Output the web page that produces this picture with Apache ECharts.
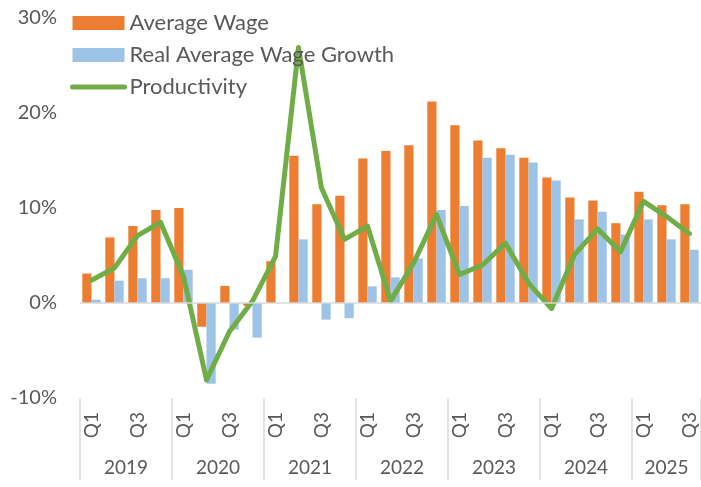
<!DOCTYPE html>
<html>
<head>
<meta charset="utf-8">
<script src="https://cdn.jsdelivr.net/npm/echarts@6/dist/echarts.min.js"></script>
<style>
    html, body { margin: 0; padding: 0; background: #fff; }
    #myChart { width: 701px; height: 487px; }
</style>
</head>
<body>
<div id="myChart"></div>
<script>
var years = ['2019', '2020', '2021', '2022', '2023', '2024', '2025'];
var quarterCount = [4, 4, 4, 4, 4, 4, 3];
var yTicks = [-10, 0, 10, 20, 30];

// 同比增速 (%)
var averageWage = [3.1, 6.9, 8.1, 9.8, 10.0, -2.5, 1.8, -0.3, 4.4, 15.5, 10.4, 11.3, 15.2, 16.0,
    16.6, 21.2, 18.7, 17.1, 16.3, 15.3, 13.2, 11.1, 10.8, 8.4, 11.7, 10.3, 10.4];
var realWageGrowth = [0.35, 2.35, 2.6, 2.6, 3.5, -8.5, -2.8, -3.65, 0, 6.7, -1.75, -1.6, 1.75, 2.7,
    4.7, 9.8, 10.2, 15.3, 15.6, 14.8, 12.9, 8.8, 9.6, 7.2, 8.8, 6.7, 5.6];
var productivity = [2.4, 3.7, 7.1, 8.5, 2.8, -8.1, -3.0, 0.2, 4.9, 26.9, 12.1, 6.7, 8.1, 0.2,
    4.2, 9.3, 3.0, 4.0, 6.3, 2.1, -0.6, 5.1, 7.8, 5.4, 10.7, 9.1, 7.3];

var quarters = [];
var yearStart = {};
years.forEach(function(y, i) {
    yearStart[quarters.length] = true;
    for (var q = 1; q <= quarterCount[i]; q++) {
        quarters.push(y + ' Q' + q);
    }
});

var textColor = '#595959';
var fontFamily = 'Lato, "Open Sans", sans-serif';

var myChart = echarts.init(document.getElementById('myChart'));
myChart.setOption({
    animation: false,
    textStyle: { fontFamily: fontFamily },
    legend: {
        orient: 'vertical',
        left: 65,
        top: 7,
        itemWidth: 52,
        itemHeight: 14,
        itemGap: 10,
        textStyle: { color: textColor, fontSize: 22, fontFamily: fontFamily },
        data: [
            { name: 'Average Wage', icon: 'rect' },
            { name: 'Real Average Wage Growth', icon: 'rect' },
            {
                name: 'Productivity',
                itemStyle: { opacity: 0 },
                lineStyle: { width: 5, cap: 'round', color: '#70ad47' }
            }
        ]
    },
    grid: {
        left: 80,
        right: -3,
        top: 18,
        bottom: 89
    },
    xAxis: [
        {
            type: 'category',
            position: 'bottom',
            data: quarters,
            axisLine: { show: false },
            axisTick: { show: false },
            axisLabel: {
                interval: 1,
                rotate: 90,
                margin: 14,
                color: textColor,
                fontSize: 19,
                formatter: function(v) { return v.split(' ')[1]; }
            }
        },
        {
            type: 'category',
            position: 'bottom',
            data: quarters,
            axisLine: { show: false },
            axisTick: {
                show: true,
                length: 82,
                interval: function(index) { return !!yearStart[index]; },
                lineStyle: { color: '#d9d9d9', width: 1.5 }
            },
            axisLabel: {
                margin: 60,
                color: textColor,
                fontSize: 19,
                interval: function(index) { return index % 4 === 1; },
                formatter: function(v, index) {
                    var y = v.split(' ')[0];
                    // 整年时标签居中于第2、3季度之间
                    return index + 2 < quarters.length ? '{full|' + y + '}' : '{part|' + y + '}';
                },
                rich: {
                    full: { padding: [0, 0, 0, 23], fontSize: 19, color: textColor },
                    part: { fontSize: 19, color: textColor }
                }
            }
        }
    ],
    yAxis: {
        type: 'value',
        min: yTicks[0],
        max: yTicks[yTicks.length - 1],
        interval: 10,
        splitLine: { show: false },
        axisLine: { show: false },
        axisTick: { show: false },
        axisLabel: {
            margin: 23,
            color: textColor,
            fontSize: 20,
            formatter: '{value}%'
        }
    },
    series: [
        {
            name: 'Average Wage',
            type: 'bar',
            barGap: '0%',
            barCategoryGap: '20%',
            itemStyle: { color: '#ed7d31' },
            data: averageWage,
            markLine: {
                silent: true,
                symbol: 'none',
                label: { show: false },
                lineStyle: { color: '#d9d9d9', width: 1.5, type: 'solid' },
                data: [{ yAxis: 0 }]
            }
        },
        {
            name: 'Real Average Wage Growth',
            type: 'bar',
            itemStyle: { color: '#9dc3e6' },
            data: realWageGrowth
        },
        {
            name: 'Productivity',
            type: 'line',
            symbol: 'none',
            lineStyle: { color: '#70ad47', width: 5, cap: 'round', join: 'round' },
            itemStyle: { color: '#70ad47' },
            data: productivity
        }
    ]
});
</script>
</body>
</html>
